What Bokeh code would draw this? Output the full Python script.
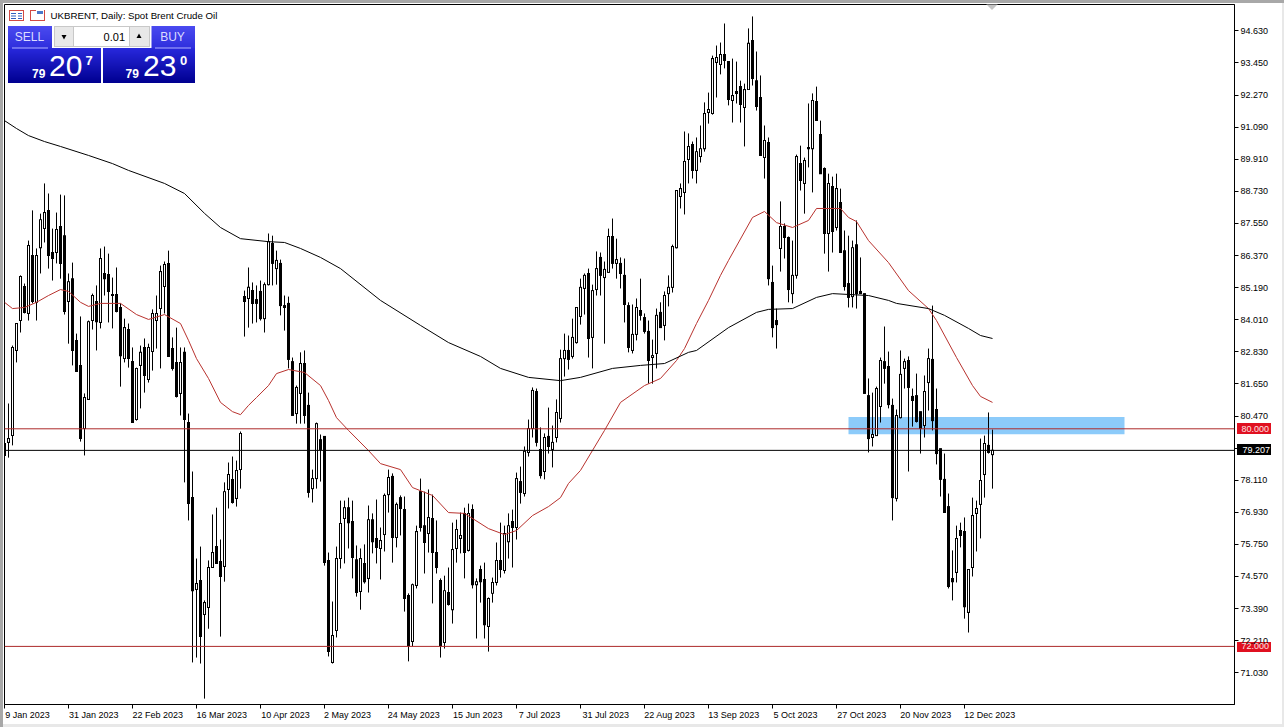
from bokeh.plotting import figure
from bokeh.models import Range1d, FixedTicker, PrintfTickFormatter, Span, Label, LinearAxis
from bokeh.embed import file_html
from bokeh.resources import INLINE

highs = [79.83,80.93,83.06,83.87,85.64,85.34,86.92,88.03,86.63,87.91,
89.02,88.65,87.36,87.95,88.61,88.58,85.71,86.11,83.50,84.13,
81.30,83.98,84.97,85.27,86.63,86.70,86.44,85.56,85.93,84.61,
84.05,83.87,82.99,82.25,83.06,83.32,83.13,84.39,84.90,86.00,
86.15,86.55,83.36,83.72,82.99,82.99,80.56,78.43,75.23,75.67,
73.69,75.16,76.85,77.10,75.93,78.03,78.76,78.98,78.83,79.90,
85.08,85.93,85.38,85.27,85.45,85.38,87.18,87.10,86.55,86.22,
84.90,84.86,82.62,81.59,82.81,82.88,81.33,78.50,80.23,79.79,
79.72,75.45,73.65,75.67,77.36,77.36,77.47,77.36,75.71,75.60,
75.75,77.18,76.89,77.40,76.37,77.62,78.50,78.36,77.29,77.55,
77.51,73.95,74.31,76.44,78.17,77.69,77.77,77.58,76.63,74.50,
74.60,74.90,76.55,76.66,76.92,77.10,77.25,77.22,74.50,74.97,
75.08,73.80,74.53,75.82,76.55,76.44,76.89,77.03,78.39,78.61,
79.35,80.34,81.52,81.48,80.05,79.83,80.78,80.12,81.08,82.91,
83.50,83.43,84.05,84.46,85.52,85.71,85.89,85.30,86.52,86.48,
86.15,87.36,87.73,86.99,86.30,86.26,84.65,84.57,84.79,85.52,
84.24,83.98,83.28,84.42,84.65,85.05,85.64,86.77,88.76,89.02,
90.93,90.86,90.56,90.71,91.15,92.00,92.36,93.72,94.09,94.20,
94.90,93.50,93.61,93.50,92.80,92.69,94.72,95.16,93.87,92.99,
91.15,90.71,86.00,84.42,88.36,87.55,87.07,86.92,90.08,90.41,
89.97,91.96,92.33,92.58,91.33,89.61,89.38,89.27,89.38,88.83,
87.29,87.10,86.92,87.66,86.30,84.97,81.85,81.33,81.55,82.62,
83.76,82.84,81.11,80.71,82.88,82.58,82.66,81.48,82.03,80.63,
81.96,82.95,84.53,81.48,79.27,79.09,77.62,75.53,76.44,76.55,
76.74,74.83,77.47,77.36,79.64,79.75,80.60,79.97]

lows = [78.91,78.94,79.39,82.44,83.54,84.24,83.98,84.61,83.98,85.71,
86.85,85.89,85.45,86.08,85.52,84.20,83.13,82.33,82.11,79.53,
79.02,81.08,83.65,82.88,83.69,84.90,83.91,83.69,84.28,81.55,
82.44,82.25,80.23,80.30,80.75,81.33,81.70,82.14,82.95,82.22,
84.24,82.66,82.14,81.15,80.49,78.03,76.63,71.41,71.59,71.37,
70.08,72.65,74.90,75.05,72.36,74.38,77.07,77.25,77.14,77.80,
83.39,83.72,83.87,83.91,83.98,83.54,85.27,85.27,85.30,84.17,
83.61,82.22,80.49,80.19,80.19,80.19,77.47,77.29,77.80,78.06,
74.97,71.63,71.37,72.33,74.86,75.05,75.60,74.50,73.83,73.35,
74.31,73.98,75.42,75.05,74.46,75.49,76.92,75.08,75.64,76.08,
73.28,71.45,72.00,74.13,76.22,74.68,75.45,73.58,74.68,71.59,
71.92,73.50,72.84,75.08,75.42,74.50,75.49,74.13,72.29,73.61,
72.29,71.81,73.61,74.24,74.53,74.68,75.23,74.90,75.93,77.25,
77.51,78.98,79.68,79.35,78.17,78.14,79.09,78.58,79.50,80.23,
81.92,82.18,82.58,83.13,83.83,84.20,82.62,82.22,84.90,84.90,
83.13,85.75,85.89,85.52,85.16,83.91,82.81,82.77,83.25,83.98,
83.50,81.66,81.66,82.22,83.72,83.25,84.50,85.01,86.63,88.10,
87.88,89.02,89.20,89.02,89.79,90.19,91.22,91.55,92.18,93.03,
93.25,91.89,91.26,91.96,91.26,90.38,92.47,92.62,91.70,90.05,
89.20,85.27,83.36,82.95,85.78,86.26,84.65,84.61,85.52,88.76,
87.91,89.61,88.69,91.33,89.38,86.44,85.78,86.48,87.29,86.48,
85.08,84.46,84.46,84.42,84.97,81.30,79.13,79.35,79.75,80.23,
81.66,80.75,76.63,77.33,80.38,81.48,78.43,80.08,80.23,79.09,
79.68,80.67,79.94,78.69,77.51,76.92,74.13,73.69,74.35,75.64,
73.02,72.51,74.57,75.49,75.97,77.47,79.09,77.80]

opens = [79.46,79.50,79.75,82.88,83.98,85.23,84.24,86.37,84.65,86.66,
87.36,88.03,86.48,86.48,87.44,87.10,84.68,85.52,83.25,82.33,
80.01,81.08,83.98,84.68,83.91,85.71,85.67,84.94,84.94,84.46,
82.58,83.65,82.47,80.34,82.33,82.99,81.81,82.84,83.98,84.42,
85.23,86.08,82.95,82.44,81.30,82.81,80.23,77.47,74.09,74.42,
73.17,73.43,74.90,75.67,75.12,74.94,77.77,78.14,77.44,78.50,
84.86,84.79,85.08,84.75,85.05,84.05,85.30,86.81,85.89,86.08,
84.53,84.61,82.47,80.56,81.30,82.40,80.86,77.80,78.17,79.60,
79.72,75.16,71.41,72.58,75.23,76.70,77.10,76.59,75.19,74.02,
75.05,74.50,76.66,75.97,75.60,76.11,77.58,78.25,76.00,77.47,
77.03,73.87,72.18,74.24,77.69,76.44,76.15,76.70,75.45,74.42,
72.14,73.98,73.35,75.60,75.97,76.89,75.53,77.03,74.27,74.83,
74.46,72.73,73.95,74.35,75.16,74.79,75.85,76.59,76.37,78.06,
77.62,79.13,80.01,81.37,79.24,78.43,79.72,79.24,79.68,80.38,
82.58,82.88,82.66,83.17,84.13,85.16,85.71,83.36,85.12,86.30,
85.56,85.75,87.07,86.08,86.08,85.64,84.53,82.88,83.47,84.35,
84.09,83.58,82.62,82.77,84.28,83.80,84.97,85.20,86.66,88.54,
88.69,89.90,90.45,89.50,90.01,90.30,91.63,91.59,93.47,93.39,
93.76,93.50,92.07,92.40,92.58,91.81,92.47,94.28,92.80,92.18,
89.97,90.53,85.38,83.98,86.63,87.44,87.03,84.97,85.64,89.75,
89.02,90.34,90.30,92.03,90.82,89.57,87.18,88.91,87.40,88.32,
86.55,85.34,84.86,86.77,85.05,84.97,81.22,79.68,79.75,80.82,
82.47,82.29,80.86,77.44,80.41,82.22,82.51,81.19,81.22,80.63,
80.12,81.70,82.55,80.71,79.27,78.14,77.14,74.50,74.72,76.26,
76.22,73.25,74.90,76.89,77.22,78.32,79.39,79.05]

closes = [79.02,79.64,82.99,83.87,85.60,84.28,86.74,84.68,86.37,87.69,
87.95,86.37,86.26,87.33,86.08,84.31,85.41,82.88,82.11,79.64,
81.15,83.94,84.90,83.94,86.26,85.52,85.05,84.90,84.31,82.69,
83.72,82.58,80.23,82.22,82.81,81.96,82.99,84.24,84.24,85.78,
86.04,82.66,82.22,81.19,82.44,80.34,77.25,74.05,74.31,72.36,
73.61,74.90,75.45,75.05,74.57,77.69,78.32,77.29,78.47,79.83,
84.68,85.20,84.61,84.61,84.05,85.30,86.88,86.08,86.19,84.53,
84.46,82.55,80.49,81.52,82.40,80.49,77.66,78.17,80.19,79.24,
75.08,71.81,72.40,75.23,76.52,77.10,76.55,75.27,73.98,75.23,
74.38,76.66,75.85,75.64,75.89,77.55,78.21,76.00,77.22,77.07,
73.76,72.03,74.27,76.22,76.37,75.82,76.74,75.45,74.90,72.03,
74.05,73.54,75.56,76.30,76.08,75.45,76.89,74.27,74.38,74.38,
72.80,73.76,74.35,75.16,74.83,76.15,76.44,76.37,78.17,77.66,
79.17,80.01,81.41,79.50,78.28,79.68,79.35,79.50,80.60,82.58,
82.88,82.55,83.36,84.46,85.20,85.64,83.32,85.08,85.89,85.64,
85.86,87.07,86.08,86.22,85.71,84.57,82.99,83.47,84.46,84.17,
83.58,82.51,82.69,84.17,83.72,84.90,85.20,86.70,88.76,88.83,
89.83,90.38,89.50,90.19,90.30,91.59,91.74,93.61,93.65,93.76,
93.54,92.11,92.25,92.33,91.92,92.47,94.17,92.88,91.85,90.05,
90.60,85.52,83.72,83.83,87.44,87.03,85.12,85.64,90.01,89.13,
89.86,90.30,92.07,91.33,89.38,87.18,89.02,87.25,88.83,86.48,
85.23,84.83,86.66,84.97,84.97,81.30,79.64,79.79,81.48,82.51,
82.22,80.89,77.47,80.49,82.00,82.47,81.52,81.04,80.27,80.01,
81.37,82.58,80.30,79.09,78.14,76.92,74.20,74.38,75.97,76.08,
73.46,74.83,76.81,77.07,78.10,79.46,79.13,79.21]

red_ma_bars = [0,2,5,8,11,14,16,19,21,24,29,33,36,40,44,46,48,51,54,57,59,61,63,66,68,71,75,79,81,83,86,91,94,99,102,107,111,115,121,125,128,132,136,139,141,144,150,154,160,164,168,170,173,176,179,181,187,190,193,197,201,203,209,211,213,216,221,226,231,233,238,242,244,247]
red_ma_vals = [84.65,84.42,84.46,84.65,84.90,85.12,85.05,84.65,84.50,84.61,84.61,84.20,84.02,84.20,83.87,83.25,82.58,81.85,80.97,80.63,80.52,80.86,81.15,81.59,82.03,82.18,82.07,81.59,81.04,80.41,79.94,79.20,78.72,78.50,77.84,77.55,76.92,76.89,76.33,76.11,76.26,76.81,77.14,77.47,77.99,78.47,79.94,80.97,81.59,81.85,82.51,82.95,83.87,84.72,85.64,86.19,87.77,87.99,87.58,87.40,87.66,88.10,88.10,87.77,87.62,86.92,86.11,85.08,84.42,83.98,82.62,81.59,81.19,80.97]

black_ma_bars = [0,3,6,10,14,21,27,31,40,45,50,54,59,66,70,74,79,84,94,104,111,119,124,131,139,144,152,159,165,171,173,181,188,191,197,203,207,216,221,223,231,235,241,244,247]
black_ma_vals = [91.33,91.04,90.78,90.56,90.38,90.05,89.75,89.50,89.02,88.65,87.92,87.40,86.99,86.88,86.85,86.63,86.30,85.89,84.72,83.80,83.17,82.66,82.22,81.89,81.77,81.89,82.22,82.33,82.40,82.81,82.88,83.72,84.28,84.39,84.42,84.83,84.97,84.90,84.72,84.61,84.42,84.17,83.69,83.43,83.32]

price_ticks = [94.63,93.45,92.27,91.09,89.91,88.73,87.55,86.37,85.19,84.01,82.83,81.65,80.47,79.29,78.11,76.93,75.75,74.57,73.39,72.21,71.03]
date_labels = ["9 Jan 2023","31 Jan 2023","22 Feb 2023","16 Mar 2023","10 Apr 2023","2 May 2023","24 May 2023","15 Jun 2023","7 Jul 2023","31 Jul 2023","22 Aug 2023","13 Sep 2023","5 Oct 2023","27 Oct 2023","20 Nov 2023","12 Dec 2023"]
date_bars = [0,16,32,48,64,80,96,112,128,144,160,176,192,208,224,240]

upper_level = 80.0
lower_level = 72.0
last_price = 79.207
zone_top = 80.43
zone_bottom = 79.80
zone_start_bar = 211
zone_end_bar = 280

FONT = "Liberation Sans"
AXIS_SIZE = "9px"
PX_PRICE = 1 / 27.2  # one screen pixel on the price scale
CHAR_BARS = 0.575  # half the width of one date label character, in bars

tag_backgrounds = ", ".join("linear-gradient(%s,%s) %dpx %dpx/%dpx %dpx no-repeat" % (c, c, x, y, w, h)
                            for c, x, y, w, h in [("#e01020", 1237, 423, 34, 11),
                                                  ("#e01020", 1237, 642, 34, 10),
                                                  ("#000000", 1237, 444, 34, 11)])

p = figure(width=1284, height=727, output_backend="svg", toolbar_location=None,
           x_range=Range1d(0, 307.5), y_range=Range1d(69.864, 95.599),
           y_axis_location="right", min_border_left=4, min_border_right=50,
           min_border_top=4, min_border_bottom=23, background_fill_color="white",
           border_fill_color=None, outline_line_color="black", outline_line_width=1)
p.styles = {"box-shadow": "inset 3px 3px 0 #a8a8a8, inset -2px -3px 0 #e8e8e8",
            "background": tag_backgrounds}
p.grid.visible = False
p.extra_x_ranges = {"px": Range1d(4.5, 1234.5)}
p.extra_y_ranges = {"px": Range1d(704.5, 4.5)}

yax = p.yaxis[0]
yax.ticker = FixedTicker(ticks=price_ticks)
yax.formatter = PrintfTickFormatter(format="%.3f")
yax.major_tick_out = 4
yax.major_tick_in = 0
yax.minor_tick_out = 0
yax.minor_tick_in = 0
yax.major_label_standoff = 2
yax.major_label_text_font = FONT
yax.major_label_text_font_size = AXIS_SIZE
yax.major_label_text_color = "black"
yax.axis_line_color = "black"
yax.major_tick_line_color = "black"


def tag_axis(levels, color, standoff):
    ax = LinearAxis(ticker=FixedTicker(ticks=levels), formatter=PrintfTickFormatter(format="%.3f"),
                    axis_line_color=None, major_tick_line_color=None, minor_tick_line_color=None,
                    major_tick_out=0, major_tick_in=0, minor_tick_out=0, minor_tick_in=0,
                    major_label_standoff=standoff, major_label_text_font=FONT,
                    major_label_text_font_size=AXIS_SIZE, major_label_text_color=color)
    p.add_layout(ax, "right")


tag_axis([upper_level, lower_level], "#ffe4e4", -30)
tag_axis([last_price], "white", -30)

# tick marks on the date axis; the text comes from a second axis centred beside each tick
xax = p.xaxis[0]
xax.ticker = FixedTicker(ticks=date_bars)
xax.major_tick_out = 4
xax.major_tick_in = 0
xax.minor_tick_out = 0
xax.minor_tick_in = 0
xax.major_tick_line_color = "black"
xax.major_label_text_font_size = "0px"
xax.major_label_text_color = None
xax.major_label_standoff = 0
xax.axis_line_color = "black"

label_centers = [b + CHAR_BARS * len(s) for b, s in zip(date_bars, date_labels)]
date_axis = LinearAxis(ticker=FixedTicker(ticks=label_centers), axis_line_color=None,
                       major_tick_line_color=None, minor_tick_line_color=None,
                       major_tick_out=0, major_tick_in=0, minor_tick_out=0, minor_tick_in=0,
                       major_label_standoff=1, major_label_text_font=FONT,
                       major_label_text_font_size=AXIS_SIZE, major_label_text_color="black")
date_axis.major_label_overrides = dict(zip(label_centers, date_labels))
p.add_layout(date_axis, "below")


def box(l, t, r, b, color):
    p.quad(left=[l], right=[r], top=[t], bottom=[b], fill_color=color, line_color=None,
           x_range_name="px", y_range_name="px")


def gradient(l, t, r, b, c0, c1):
    n = max(int(b - t), 1)
    for k in range(n):
        f = k / max(n - 1, 1)
        col = tuple(int(c0[j] + (c1[j] - c0[j]) * f) for j in range(3))
        box(l, t + k, r, t + k + 1, "#%02x%02x%02x" % col)


def text(x, y, s, size, color="black", align="left", style="normal", font=FONT):
    p.add_layout(Label(x=x, y=y, text=s, x_range_name="px", y_range_name="px",
                       text_font=font, text_font_size=size, text_color=color,
                       text_align=align, text_baseline="middle", text_font_style=style))


# support zone behind the candles
p.quad(left=[zone_start_bar], right=[zone_end_bar], top=[zone_top], bottom=[zone_bottom],
       fill_color="#8ccbfa", line_color=None)

# candles: wick, then a 3px black body, then a 1px white core for rising bars
bars = list(range(len(opens)))
p.segment(x0=bars, x1=bars, y0=lows, y1=highs, line_color="black", line_width=1)
body_top = [max(o, c) + PX_PRICE / 2 for o, c in zip(opens, closes)]
body_bot = [min(o, c) - PX_PRICE / 2 for o, c in zip(opens, closes)]
p.segment(x0=bars, x1=bars, y0=body_bot, y1=body_top, line_color="black", line_width=3, line_cap="butt")
up = [i for i in bars if closes[i] >= opens[i]]
p.segment(x0=up, x1=up, y0=[opens[i] + PX_PRICE / 2 for i in up], y1=[closes[i] - PX_PRICE / 2 for i in up],
          line_color="white", line_width=1, line_cap="butt")

# moving averages
p.line(red_ma_bars, red_ma_vals, line_color="#b8322e", line_width=1)
p.line(black_ma_bars, black_ma_vals, line_color="black", line_width=1)

# levels
p.add_layout(Span(location=upper_level, dimension="width", line_color="#ad2a2a", line_width=1))
p.add_layout(Span(location=lower_level, dimension="width", line_color="#ad2a2a", line_width=1))
p.add_layout(Span(location=last_price, dimension="width", line_color="black", line_width=1))

# chart-shift marker
p.patch([986, 998, 992], [4, 4, 10], fill_color="#c4c4c4", line_color=None,
        x_range_name="px", y_range_name="px")

# title
text(50.5, 15.5, "UKBRENT, Daily:  Spot Brent Crude Oil", "9.7px")

# title icons
box(9, 10, 24, 21, "#d24a44")
box(10, 11, 23, 20, "white")
for yy in (13, 15.5, 18):
    box(11, yy, 16, yy + 1, "#3060c0")
    box(18, yy, 22, yy + 1, "#3060c0")
box(30, 10, 45, 21, "#d24a44")
box(31, 11, 44, 20, "white")
box(36, 9, 44, 15, "white")
box(37, 11, 43, 14, "#4a78c8")

# one-click trading panel
gradient(8, 26, 52, 48, (74, 74, 240), (48, 48, 222))
gradient(151.5, 26, 195, 48, (74, 74, 240), (48, 48, 222))
gradient(8, 48, 101, 83, (40, 40, 220), (0, 0, 145))
gradient(103, 48, 195, 83, (40, 40, 220), (0, 0, 145))
box(54, 26, 150, 47, "#c8c8c8")
box(55, 27, 73, 46, "#e8e8e8")
box(74, 27, 129, 46, "white")
box(130, 27, 149, 46, "#e8e8e8")
box(12, 47.5, 48, 48.5, "#b0b0ff")
box(155, 47.5, 191, 48.5, "#b0b0ff")
p.scatter([64], [36.5], marker="inverted_triangle", size=5, fill_color="black", line_color=None,
          x_range_name="px", y_range_name="px")
p.scatter([139], [36.5], marker="triangle", size=5, fill_color="black", line_color=None,
          x_range_name="px", y_range_name="px")
text(29.5, 36.5, "SELL", "12px", "#dcdcff", "center")
text(172.5, 36.5, "BUY", "12px", "#dcdcff", "center")
text(125, 36.5, "0.01", "11px", "black", "right")
text(32, 73, "79", "12px", "white", style="bold")
text(49, 66, "20", "30px", "white")
text(85.5, 60, "7", "13px", "white", style="bold")
text(125.5, 73, "79", "12px", "white", style="bold")
text(143, 66, "23", "30px", "white")
text(180, 60, "0", "13px", "white", style="bold")

open("out.html", "w").write(file_html(p, INLINE))
